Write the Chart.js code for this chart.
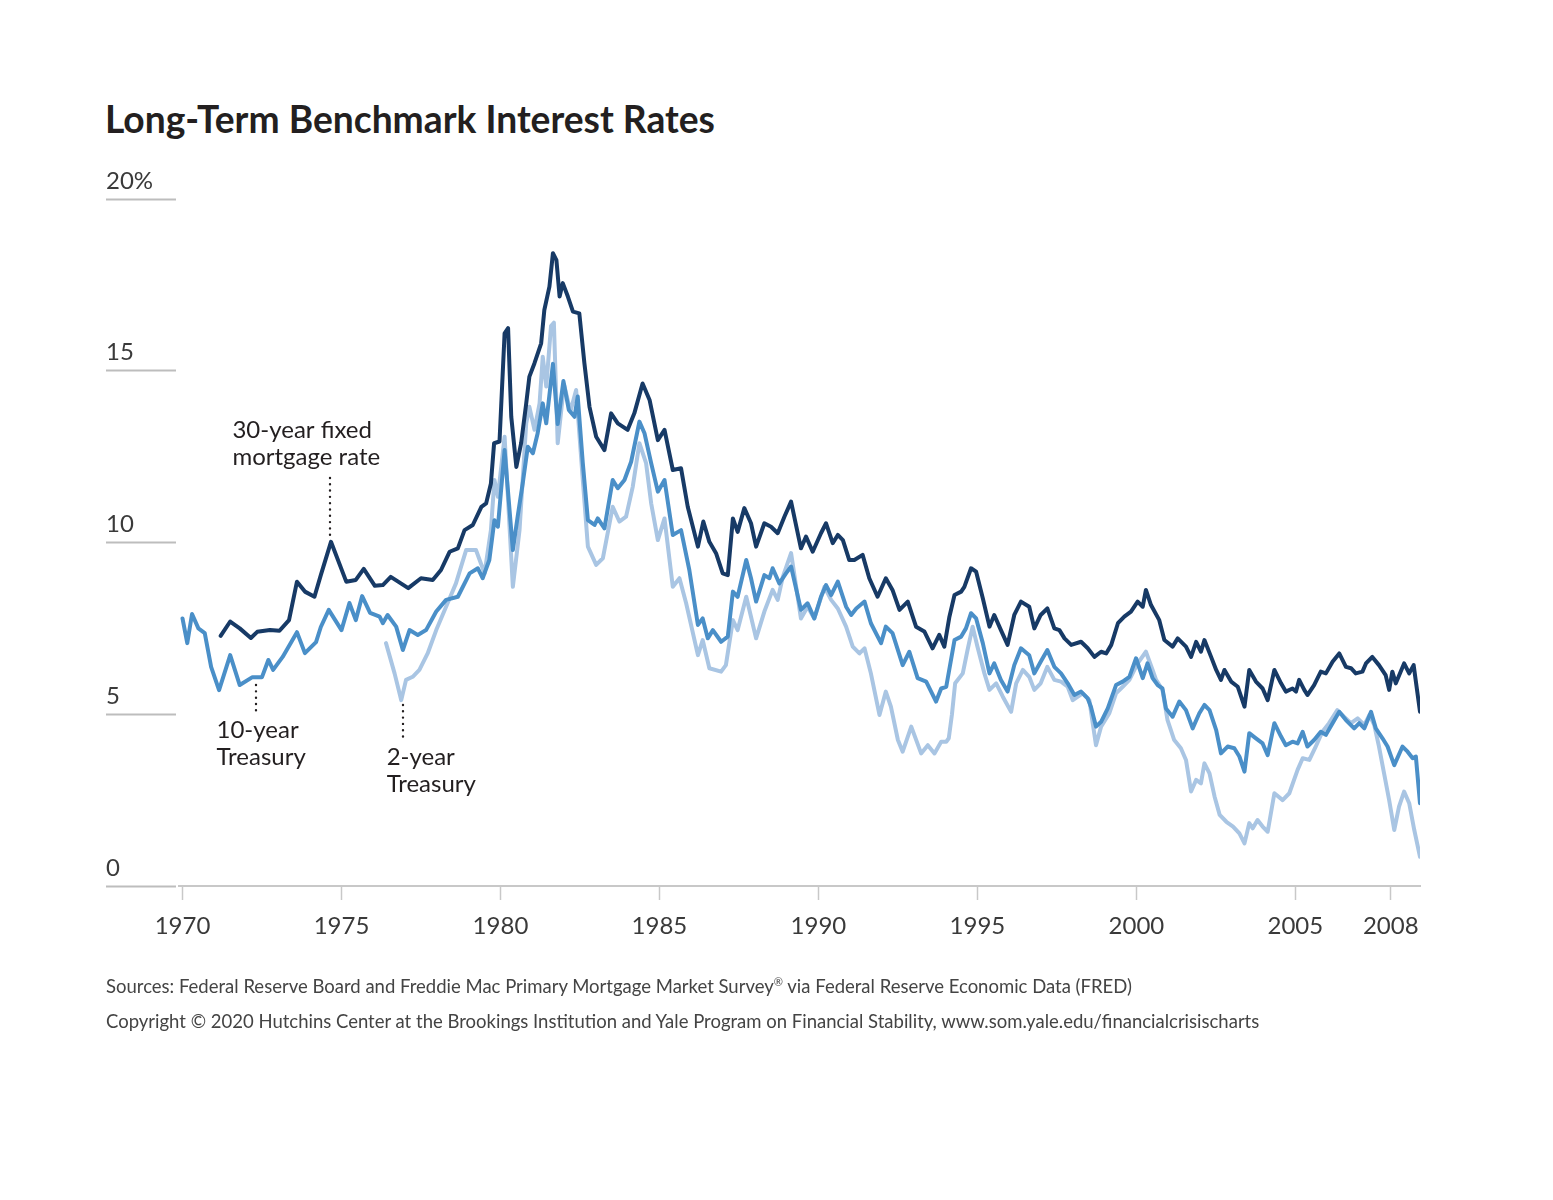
<!DOCTYPE html>
<html><head><meta charset="utf-8">
<script src="https://cdn.jsdelivr.net/npm/chart.js@4.4.1/dist/chart.umd.min.js"></script>
<style>
html,body{margin:0;padding:0;background:#fff;}
#wrap{position:relative;width:1553px;height:1200px;overflow:hidden;background:#fff;}
canvas{position:absolute;left:0;top:0;}
.title{position:absolute;left:105px;top:97px;font:700 37.2px Lato, sans-serif;color:#231f20;white-space:nowrap;line-height:44px;}
.note{position:absolute;left:106px;font:400 18.5px Lato, sans-serif;color:#444;white-space:nowrap;line-height:22px;}
.note sup{font-size:0.6em;}
</style></head>
<body><div id="wrap">
<div class="title">Long-Term Benchmark Interest Rates</div>
<canvas id="c" width="1553" height="1200"></canvas>
<div class="note" style="top:971px">Sources: Federal Reserve Board and Freddie Mac Primary Mortgage Market Survey<sup>®</sup> via Federal Reserve Economic Data (FRED)</div>
<div class="note" style="top:1010px">Copyright © 2020 Hutchins Center at the Brookings Institution and Yale Program on Financial Stability, www.som.yale.edu/financialcrisischarts</div>
</div>
<script>
// ---- data ----
const xTickValues = [1970,1975,1980,1985,1990,1995,2000,2005,2008];
const yTickValues = [0,5,10,15,20];

const mortgageYears = [1971.2,1971.5,1971.8,1972.15,1972.35,1972.75,1973.05,1973.35,1973.6,1973.85,1974.15,1974.35,1974.67,1975.15,1975.45,1975.7,1976.05,1976.3,1976.55,1977.1,1977.5,1977.87,1978.13,1978.4,1978.66,1978.87,1979.13,1979.4,1979.55,1979.7,1979.8,1979.97,1980.13,1980.24,1980.34,1980.5,1980.65,1980.81,1980.91,1981.07,1981.28,1981.38,1981.54,1981.65,1981.76,1981.86,1981.96,1982.12,1982.28,1982.48,1982.64,1982.8,1983.01,1983.27,1983.48,1983.69,1984.0,1984.21,1984.47,1984.69,1984.95,1985.16,1985.42,1985.68,1985.89,1986.21,1986.38,1986.57,1986.78,1986.99,1987.15,1987.31,1987.46,1987.67,1987.88,1988.04,1988.3,1988.51,1988.72,1988.93,1989.14,1989.45,1989.61,1989.82,1990.08,1990.24,1990.45,1990.61,1990.77,1990.97,1991.13,1991.39,1991.6,1991.86,1992.12,1992.33,1992.55,1992.81,1993.07,1993.33,1993.59,1993.8,1993.96,1994.12,1994.28,1994.49,1994.59,1994.8,1994.96,1995.17,1995.38,1995.53,1995.74,1995.95,1996.16,1996.37,1996.63,1996.79,1996.99,1997.2,1997.42,1997.58,1997.74,1997.95,1998.26,1998.47,1998.68,1998.89,1999.05,1999.21,1999.42,1999.62,1999.83,2000.04,2000.2,2000.3,2000.46,2000.72,2000.88,2001.14,2001.3,2001.56,2001.72,2001.88,2002.03,2002.14,2002.35,2002.51,2002.66,2002.77,2002.98,2003.19,2003.4,2003.55,2003.76,2003.97,2004.13,2004.34,2004.55,2004.7,2004.91,2005.02,2005.12,2005.28,2005.38,2005.59,2005.8,2005.96,2006.17,2006.38,2006.59,2006.75,2006.9,2007.11,2007.22,2007.42,2007.63,2007.84,2007.95,2008.05,2008.16,2008.42,2008.58,2008.72,2008.92];
const mortgageRates = [7.28,7.7,7.5,7.22,7.4,7.45,7.43,7.74,8.86,8.57,8.42,9.05,10.02,8.86,8.91,9.23,8.74,8.76,9.0,8.67,8.96,8.91,9.2,9.73,9.83,10.36,10.51,11.04,11.14,11.72,12.89,12.94,16.09,16.24,13.66,12.2,12.89,14.05,14.83,15.22,15.8,16.77,17.45,18.42,18.22,17.16,17.55,17.16,16.72,16.67,15.22,13.95,13.08,12.69,13.76,13.47,13.28,13.76,14.63,14.15,12.98,13.28,12.11,12.16,11.04,9.88,10.61,10.02,9.69,9.1,9.05,10.7,10.31,11.0,10.56,9.88,10.56,10.46,10.27,10.75,11.19,9.83,10.17,9.73,10.27,10.56,9.98,10.22,10.07,9.49,9.49,9.64,8.96,8.42,8.96,8.62,8.04,8.28,7.55,7.41,6.92,7.31,6.97,7.84,8.47,8.57,8.71,9.25,9.15,8.38,7.55,7.89,7.45,7.02,7.89,8.28,8.13,7.5,7.89,8.08,7.5,7.45,7.21,7.02,7.11,6.92,6.67,6.82,6.77,7.02,7.65,7.84,7.99,8.28,8.13,8.62,8.18,7.74,7.16,6.97,7.21,6.97,6.67,7.11,6.82,7.16,6.67,6.29,6.0,6.29,5.95,5.8,5.22,6.29,5.95,5.75,5.41,6.29,5.9,5.66,5.75,5.66,6.0,5.71,5.56,5.85,6.24,6.19,6.53,6.77,6.38,6.34,6.19,6.24,6.48,6.67,6.43,6.14,5.71,6.24,5.9,6.48,6.19,6.43,5.07];

const tenYearYears = [1970.0,1970.15,1970.3,1970.5,1970.7,1970.9,1971.15,1971.5,1971.8,1972.2,1972.5,1972.7,1972.85,1973.15,1973.6,1973.85,1974.2,1974.35,1974.6,1975.0,1975.25,1975.45,1975.65,1975.9,1976.2,1976.3,1976.45,1976.72,1976.93,1977.14,1977.4,1977.66,1977.98,1978.29,1978.66,1979.03,1979.29,1979.44,1979.65,1979.81,1979.92,1980.13,1980.39,1980.54,1980.7,1980.86,1981.02,1981.17,1981.33,1981.44,1981.65,1981.8,1981.98,1982.15,1982.33,1982.43,1982.59,1982.75,1982.96,1983.06,1983.27,1983.53,1983.69,1983.9,1984.11,1984.37,1984.53,1984.74,1984.95,1985.16,1985.42,1985.68,1985.94,1986.21,1986.36,1986.52,1986.68,1986.94,1987.15,1987.31,1987.46,1987.73,1987.88,1988.04,1988.3,1988.46,1988.56,1988.77,1988.98,1989.14,1989.45,1989.66,1989.87,1990.08,1990.24,1990.4,1990.61,1990.87,1991.03,1991.19,1991.45,1991.65,1991.97,1992.12,1992.33,1992.65,1992.86,1993.12,1993.39,1993.7,1993.86,1994.02,1994.28,1994.49,1994.64,1994.8,1994.96,1995.17,1995.38,1995.53,1995.74,1995.95,1996.16,1996.37,1996.63,1996.79,1996.99,1997.2,1997.42,1997.63,1997.84,1998.05,1998.26,1998.47,1998.57,1998.73,1998.89,1999.1,1999.36,1999.57,1999.78,1999.99,2000.2,2000.35,2000.51,2000.67,2000.82,2000.93,2001.14,2001.35,2001.56,2001.77,2001.98,2002.14,2002.3,2002.51,2002.66,2002.87,2003.08,2003.24,2003.4,2003.55,2003.76,2003.97,2004.13,2004.34,2004.55,2004.7,2004.91,2005.07,2005.23,2005.38,2005.59,2005.8,2005.96,2006.17,2006.38,2006.59,2006.85,2007.01,2007.17,2007.38,2007.53,2007.74,2007.9,2008.11,2008.37,2008.53,2008.69,2008.79,2008.92];
const tenYearRates = [7.79,7.07,7.92,7.5,7.36,6.38,5.7,6.72,5.85,6.08,6.08,6.58,6.29,6.67,7.39,6.78,7.1,7.54,8.04,7.45,8.24,7.74,8.44,7.95,7.84,7.65,7.89,7.55,6.87,7.45,7.31,7.45,7.99,8.33,8.42,9.1,9.25,8.96,9.49,10.65,10.46,12.69,9.78,10.75,11.72,12.79,12.6,13.18,14.05,13.47,15.2,13.45,14.7,13.86,13.66,14.25,12.31,10.65,10.51,10.7,10.41,11.82,11.58,11.82,12.35,13.52,13.18,12.31,11.48,11.82,10.22,10.36,9.2,7.6,7.79,7.21,7.45,7.11,7.26,8.57,8.42,9.49,8.96,8.28,9.05,8.96,9.25,8.81,9.1,9.3,8.04,8.23,7.79,8.42,8.76,8.47,8.86,8.13,7.89,8.08,8.28,7.65,7.07,7.55,7.36,6.43,6.82,6.05,5.95,5.37,5.75,5.8,7.16,7.26,7.5,7.94,7.79,7.07,6.19,6.48,6.0,5.66,6.43,6.92,6.72,6.19,6.53,6.87,6.38,6.19,5.9,5.56,5.66,5.46,5.22,4.64,4.78,5.17,5.85,5.95,6.09,6.63,6.05,6.48,6.05,5.85,5.75,5.17,4.93,5.37,5.12,4.59,5.03,5.27,5.12,4.54,3.86,4.06,4.01,3.77,3.33,4.45,4.3,4.15,3.81,4.74,4.35,4.1,4.2,4.15,4.49,4.06,4.25,4.49,4.4,4.74,5.07,4.83,4.59,4.74,4.59,5.07,4.59,4.3,4.06,3.52,4.06,3.91,3.72,3.77,2.41];

const twoYearYears = [1976.4,1976.67,1976.88,1977.03,1977.24,1977.45,1977.71,1977.98,1978.29,1978.6,1978.92,1979.23,1979.5,1979.7,1979.81,1979.92,1980.13,1980.39,1980.6,1980.81,1980.91,1981.07,1981.23,1981.33,1981.44,1981.59,1981.68,1981.8,1982.0,1982.2,1982.38,1982.59,1982.75,1983.01,1983.22,1983.53,1983.74,1983.95,1984.16,1984.37,1984.58,1984.74,1984.95,1985.16,1985.42,1985.63,1985.84,1986.21,1986.36,1986.57,1986.94,1987.09,1987.31,1987.46,1987.73,1987.88,1988.04,1988.3,1988.56,1988.72,1988.88,1989.14,1989.45,1989.66,1989.87,1990.19,1990.4,1990.61,1990.87,1991.08,1991.29,1991.45,1991.65,1991.92,1992.12,1992.28,1992.5,1992.65,1992.92,1993.23,1993.44,1993.65,1993.86,1994.02,1994.1,1994.2,1994.3,1994.54,1994.69,1994.85,1995.0,1995.22,1995.38,1995.59,1995.8,1996.06,1996.22,1996.43,1996.63,1996.79,1996.99,1997.2,1997.42,1997.63,1997.84,1998.0,1998.31,1998.52,1998.73,1998.89,1999.15,1999.36,1999.57,1999.78,2000.04,2000.3,2000.51,2000.62,2000.82,2000.98,2001.19,2001.4,2001.56,2001.72,2001.88,2002.03,2002.14,2002.3,2002.46,2002.62,2002.83,2003.04,2003.24,2003.4,2003.55,2003.66,2003.81,2003.97,2004.13,2004.34,2004.6,2004.81,2005.07,2005.23,2005.44,2005.64,2005.85,2006.06,2006.32,2006.53,2006.75,2006.96,2007.17,2007.33,2007.48,2007.63,2007.79,2007.95,2008.11,2008.26,2008.42,2008.58,2008.74,2008.92];
const twoYearRates = [7.07,6.19,5.41,6.0,6.09,6.29,6.77,7.45,8.13,8.81,9.78,9.78,9.1,10.36,11.82,11.33,13.08,8.71,10.36,13.47,13.95,13.28,14.05,15.41,14.54,16.3,16.4,12.89,14.6,13.81,14.44,11.82,9.88,9.35,9.54,11.04,10.61,10.75,11.62,12.89,12.31,11.14,10.07,10.7,8.71,8.96,8.23,6.72,7.16,6.34,6.24,6.43,7.74,7.45,8.42,7.84,7.21,7.99,8.62,8.33,9.0,9.69,7.79,8.13,7.79,8.71,8.33,8.08,7.55,6.97,6.77,6.92,6.19,4.98,5.66,5.22,4.25,3.91,4.64,3.86,4.1,3.86,4.2,4.2,4.3,5.0,5.9,6.19,6.87,7.55,6.97,6.19,5.71,5.9,5.51,5.07,5.9,6.29,6.09,5.71,5.9,6.38,6.0,5.95,5.8,5.41,5.61,5.41,4.1,4.64,5.03,5.61,5.8,6.0,6.48,6.82,6.29,6.0,5.71,4.83,4.25,4.01,3.67,2.75,3.09,2.99,3.57,3.28,2.6,2.07,1.87,1.73,1.53,1.24,1.83,1.68,1.92,1.73,1.58,2.7,2.5,2.7,3.38,3.72,3.67,4.06,4.49,4.74,5.12,4.93,4.74,4.88,4.69,4.98,4.69,4.06,3.28,2.5,1.63,2.31,2.75,2.41,1.63,0.85];

const seriesLabels = ['30-year fixed mortgage rate','10-year Treasury','2-year Treasury'];

// ---- styling / annotations ----
const colors = {mortgage:'#173a66', ten:'#4a8fc8', two:'#a9c5e3'};
const FONT = 'Lato, "Open Sans", sans-serif';
const annotations = [
  {lines:['30-year fixed','mortgage rate'], textX:1971.57, textY:[13.27,12.49], dotX:1974.65, dotY:[11.88,10.22]},
  {lines:['10-year','Treasury'], textX:1971.07, textY:[4.54,3.76], dotX:1972.3, dotY:[5.85,5.0]},
  {lines:['2-year','Treasury'], textX:1976.42, textY:[3.76,2.97], dotX:1976.92, dotY:[5.27,4.25]}
];

const pts = (xs, ys) => xs.map((x,i)=>({x:x, y:ys[i]}));

const annotationPlugin = {
  id:'annot',
  afterDatasetsDraw(chart){
    const ctx = chart.ctx, xs = chart.scales.x, ys = chart.scales.y;
    ctx.save();
    annotations.forEach(a=>{
      const dx = Math.round(xs.getPixelForValue(a.dotX));
      ctx.beginPath();
      ctx.strokeStyle = '#231f20';
      ctx.lineWidth = 2.4;
      ctx.lineCap = 'round';
      ctx.setLineDash([0.01, 6.3]);
      ctx.moveTo(dx, ys.getPixelForValue(a.dotY[0]));
      ctx.lineTo(dx, ys.getPixelForValue(a.dotY[1]));
      ctx.stroke();
      ctx.setLineDash([]);
      ctx.fillStyle = '#231f20';
      ctx.font = '400 24px ' + FONT;
      ctx.textAlign = 'left';
      ctx.textBaseline = 'middle';
      a.lines.forEach((t,i)=>{
        ctx.fillText(t, xs.getPixelForValue(a.textX), ys.getPixelForValue(a.textY[i]));
      });
    });
    ctx.restore();
  }
};

const lineStyle = {pointRadius:0, borderWidth:4, tension:0, borderJoinStyle:'round', borderCapStyle:'round', fill:false};

new Chart(document.getElementById('c'), {
  type:'line',
  data:{datasets:[
    Object.assign({label:seriesLabels[0], data:pts(mortgageYears, mortgageRates), borderColor:colors.mortgage, order:1}, lineStyle),
    Object.assign({label:seriesLabels[1], data:pts(tenYearYears, tenYearRates), borderColor:colors.ten, order:2}, lineStyle),
    Object.assign({label:seriesLabels[2], data:pts(twoYearYears, twoYearRates), borderColor:colors.two, order:3}, lineStyle)
  ]},
  options:{
    responsive:false, animation:false, devicePixelRatio:1,
    layout:{padding:{left:106, right:133, top:199, bottom:254}},
    plugins:{legend:{display:false}, tooltip:{enabled:false}, title:{display:false}},
    scales:{
      x:{type:'linear', min:1969.89, max:2008.92,
        afterBuildTicks: s => { s.ticks = xTickValues.map(v=>({value:v})); },
        afterFit: s => { s.height = 60; },
        grid:{drawOnChartArea:false, drawTicks:true, tickLength:14, tickColor:'#c8c8c8', tickWidth:1.5},
        border:{display:true, color:'#c8c8c8', width:2},
        ticks:{padding:12, color:'#3a3a3a', font:{family:FONT, size:24, weight:'400'}, maxRotation:0, autoSkip:false, callback: v => String(v)}
      },
      y:{type:'linear', min:0, max:20, position:'left',
        afterBuildTicks: s => { s.ticks = yTickValues.map(v=>({value:v})); },
        afterFit: s => { s.width = 73; },
        grid:{drawOnChartArea:false, drawTicks:true, tickLength:73, tickColor:'#bdbdbd', tickWidth:2, tickBorderDash:[70,30]},
        border:{display:false},
        ticks:{crossAlign:'far', labelOffset:-18, padding:0, color:'#3a3a3a', font:{family:FONT, size:24, weight:'400'}, callback: v => v===20 ? '20%' : String(v)}
      }
    }
  },
  plugins:[annotationPlugin]
});
</script>
</body></html>
